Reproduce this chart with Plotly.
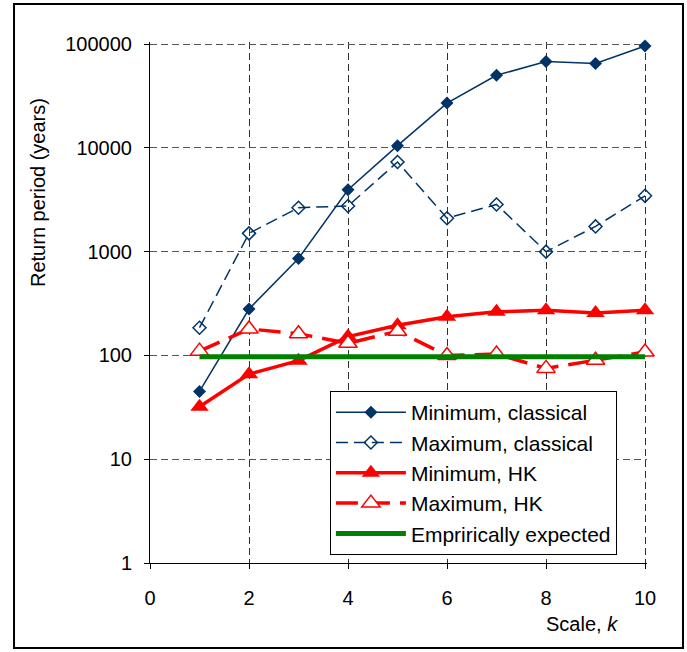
import plotly.graph_objects as go

k = [1, 2, 3, 4, 5, 6, 7, 8, 9, 10]
min_classical = [45, 280, 860, 3950, 10500, 27000, 50000, 68000, 65000, 96000]
max_classical = [185, 1500, 2650, 2750, 7300, 2100, 2850, 1000, 1750, 3450]
min_hk = [32, 66, 89, 152, 195, 236, 263, 273, 257, 273]
max_hk = [110, 180, 162, 131, 171, 100, 103, 75, 90, 108]
empirical = [97] * 10

x_ticks = [0, 2, 4, 6, 8, 10]
y_ticks = [1, 10, 100, 1000, 10000, 100000]
y_tick_labels = ["1", "10", "100", "1000", "10000", "100000"]

navy = "#003366"
red = "#FF0000"
green = "#008000"

fig = go.Figure()
fig.add_trace(go.Scatter(x=k, y=min_classical, name="Minimum, classical", mode="lines+markers",
                         line=dict(color=navy, width=1.5),
                         marker=dict(symbol="diamond", size=10, color=navy)))
fig.add_trace(go.Scatter(x=k, y=max_classical, name="Maximum, classical", mode="lines+markers",
                         line=dict(color=navy, width=1.5, dash="12px,6px"),
                         marker=dict(symbol="diamond-open", size=10, color=navy, line=dict(width=1.5))))
fig.add_trace(go.Scatter(x=k, y=min_hk, name="Minimum, HK", mode="lines+markers",
                         line=dict(color=red, width=3.5),
                         marker=dict(symbol="triangle-up", size=16, color=red)))
fig.add_trace(go.Scatter(x=k, y=max_hk, name="Maximum, HK", mode="lines+markers",
                         line=dict(color=red, width=3.5, dash="22px,10px"),
                         marker=dict(symbol="triangle-up", size=16, color="white", line=dict(color=red, width=1.5))))
fig.add_trace(go.Scatter(x=k, y=empirical, name="Emprirically expected", mode="lines",
                         line=dict(color=green, width=5)))
fig.update_traces(cliponaxis=False)

font = "Liberation Sans, Arial, sans-serif"
fig.update_layout(
    width=687, height=652,
    margin=dict(l=150, r=40, t=42, b=89),
    paper_bgcolor="white", plot_bgcolor="white",
    font=dict(family=font, size=20, color="black"),
    showlegend=True,
    legend=dict(x=0.362, y=0.33, xanchor="left", yanchor="top",
                bgcolor="white", bordercolor="black", borderwidth=1,
                itemwidth=70, font=dict(size=21), tracegroupgap=0),
    xaxis=dict(range=[0, 10.04], tickvals=x_ticks, showgrid=True,
               gridcolor="#303030", griddash="7px,4px", gridwidth=1,
               showline=True, linecolor="black", linewidth=1,
               ticks="outside", ticklen=5, tickcolor="black", zeroline=False,
               ticklabelstandoff=12, tickfont=dict(size=20)),
    yaxis=dict(type="log", range=[0, 5.02], tickvals=y_ticks, ticktext=y_tick_labels,
               showgrid=True, gridcolor="#555555", griddash="7px,4px", gridwidth=1,
               showline=True, linecolor="black", linewidth=1,
               ticks="outside", ticklen=5, tickcolor="black",
               ticklabelstandoff=8, tickfont=dict(size=20)),
)
fig.add_annotation(text="Return period (years)", xref="paper", yref="paper", x=-0.2254, y=0.712,
                   xanchor="center", yanchor="middle",
                   textangle=-90, showarrow=False, font=dict(size=20))
fig.add_annotation(text="Scale, <i>k</i>", xref="paper", yref="paper", x=0.9457, y=-0.093,
                   xanchor="right", yanchor="top", showarrow=False, font=dict(size=20))
fig.add_shape(type="rect", xref="paper", yref="paper", x0=-0.2736, x1=1.0724, y0=-0.1631, y1=1.0729,
              line=dict(color="black", width=2))
fig.write_html("out.html")
